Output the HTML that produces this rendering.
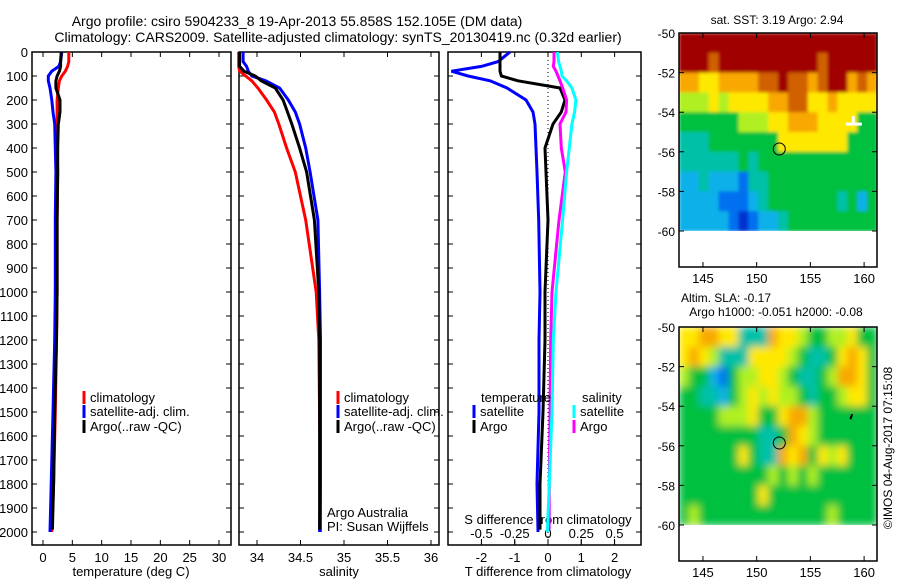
<!DOCTYPE html>
<html><head><meta charset="utf-8"><style>
html,body{margin:0;padding:0;background:#fff;}
svg{display:block;font-family:"Liberation Sans",sans-serif;}
</style></head><body>
<svg id="fig" width="900" height="580" viewBox="0 0 900 580" xmlns="http://www.w3.org/2000/svg">
<text x="297" y="26" font-size="14" text-anchor="middle">Argo profile: csiro 5904233_8 19-Apr-2013 55.858S 152.105E (DM data)</text>
<text x="338" y="42" font-size="14" text-anchor="middle">Climatology: CARS2009. Satellite-adjusted climatology: synTS_20130419.nc (0.32d earlier)</text>
<text x="777" y="24" font-size="12" text-anchor="middle">sat. SST: 3.19 Argo: 2.94</text>
<text x="726" y="302" font-size="12" text-anchor="middle">Altim. SLA: -0.17</text>
<text x="776" y="316" font-size="12" text-anchor="middle">Argo h1000: -0.051 h2000: -0.08</text>
<text transform="translate(892,448) rotate(-90)" font-size="12" text-anchor="middle">©IMOS 04-Aug-2017 07:15:08</text>
</svg>
<script>
// ---- profile data ----
const depths = [0,40,60,80,100,120,150,200,250,300,400,500,700,1000,1200,1500,1800,2000];
const tempClim = [4.4,4.4,4.2,3.8,3.2,2.8,2.6,2.4,2.4,2.4,2.4,2.5,2.4,2.4,2.3,2.1,1.8,1.5];
const tempSat  = [3.2,3.0,2.7,1.5,0.9,0.9,1.2,1.5,1.7,2.0,2.1,2.2,2.1,2.1,2.0,1.7,1.4,1.2];
const tempArgo = [3.1,3.0,3.0,2.8,2.4,2.2,2.2,2.9,2.9,2.6,2.5,2.5,2.4,2.4,2.3,2.0,1.8,1.6];
const salClim = [33.79,33.79,33.79,33.80,33.87,33.94,34.01,34.11,34.20,34.25,34.34,34.44,34.56,34.68,34.71,34.72,34.73,34.73];
const salSat  = [33.84,33.84,33.88,33.90,33.94,34.10,34.26,34.36,34.44,34.49,34.56,34.61,34.70,34.72,34.73,34.73,34.73,34.72];
const salArgo = [33.80,33.80,33.80,33.85,33.98,34.05,34.21,34.30,34.35,34.40,34.49,34.57,34.66,34.71,34.72,34.72,34.72,34.72];
const dTSat  = [-1.14,-1.5,-2.0,-2.9,-2.4,-1.74,-1.23,-0.66,-0.45,-0.39,-0.36,-0.33,-0.28,-0.24,-0.27,-0.27,-0.33,-0.30];
const dTArgo = [-1.44,-1.44,-1.44,-1.44,-1.4,-0.9,0.36,0.51,0.4,0.15,-0.09,-0.06,0,-0.09,-0.09,-0.15,-0.24,-0.24];
const dSArgo = [0.045,0.045,0.04,0.06,0.075,0.09,0.11,0.14,0.135,0.09,0.10,0.13,0.083,0.03,0.02,0.015,0.01,0.008];
const dSSat  = [0.07,0.08,0.09,0.10,0.105,0.14,0.18,0.21,0.20,0.18,0.16,0.14,0.11,0.06,0.04,0.03,0.01,-0.005];
const depthTicks = [0,100,200,300,400,500,600,700,800,900,1000,1100,1200,1300,1400,1500,1600,1700,1800,1900,2000];
const tempTicks = [0,5,10,15,20,25,30];
const salTicks = [34,34.5,35,35.5,36];
const dTTicks = [-2,-1,0,1,2];
const dSTicks = [-0.5,-0.25,0,0.25,0.5];
// ---- map data (rows lat -50..-60, cols lon 142.8..161.2), levels 0-9 ----
const sstGrid = [
"99999999999999999999",
"99989999999999899999",
"77667777889887899787",
"55565666677886676666",
"44444455566777666644",
"33344444446666666444",
"33333343444444444444",
"22322213344444444444",
"22221112344444443424",
"22222101223444444444"];
const slaGrid = [
"66776633376654455644",
"67653336666543346764",
"54421455665433457764",
"44332456565543445664",
"44445556446775444444",
"44444444334765444444",
"44444464337674656444",
"44444444454545444444",
"44444444644444444444",
"45444444444444454444"];
const palette = ["#0030d0","#0070f0","#10b0e8","#00c0a8","#00c040","#b0f020","#ffe800","#f8a800","#d06000","#a00000"];

const svg = document.getElementById('fig');
const NS = 'http://www.w3.org/2000/svg';
function mk(tag, attrs, parent){const e=document.createElementNS(NS,tag);for(const k in attrs)e.setAttribute(k,attrs[k]);(parent||svg).appendChild(e);return e;}
function txt(x,y,s,size,anchor){const e=mk('text',{x:x,y:y,'font-size':size,'text-anchor':anchor||'middle'});e.textContent=s;return e;}

const y0=52, yPer=0.24;
const yD = d => y0 + d*yPer;
const panels = [
 {x0:32,x1:231,f:v=>43+(v-0)*5.867,ticks:tempTicks,name:'temperature'},
 {x0:239,x1:439,f:v=>257+(v-34)*87,ticks:salTicks,name:'salinity'},
 {x0:448,x1:641,f:v=>548+v*33.3,ticks:dTTicks,name:'difference'}];
const fS = v => 548 + v*133;

panels.forEach((p,i)=>{
  const fr=mk('rect',{x:p.x0,y:52,width:p.x1-p.x0,height:493,fill:'none',stroke:'#000','stroke-width':1.5});
  
  
  depthTicks.forEach(d=>{
    const t=mk('path',{d:`M${p.x0} ${yD(d)}h5M${p.x1} ${yD(d)}h-5`,stroke:'#000','stroke-width':1});
    
    
    if(i===0){
      const l=txt(28,yD(d)+5,String(d),13,'end');
      
      
    }
  });
  p.ticks.forEach(v=>{
    const x=p.f(v);
    const t=mk('path',{d:`M${x} 52v5M${x} 545v-5`,stroke:'#000','stroke-width':1});
    
    
    const l=txt(x,562,String(v),13);
    
    
  });
});
dSTicks.forEach(v=>{
  const x=fS(v);
  const t=mk('path',{d:`M${x} 545v-6`,stroke:'#000','stroke-width':1});
  
  
  const l=txt(x,538,String(v),13);
  
  
});
[['temperature (deg C)',131,'temperature-axis-title'],['salinity',339,'salinity-axis-title'],['T difference from climatology',548,'t-diff-axis-title']].forEach(a=>{
  const l=txt(a[1],576,a[0],13);
  
  
});
const st=txt(548,524,'S difference from climatology',13);


const dot=mk('line',{x1:548,y1:52,x2:548,y2:545,stroke:'#000','stroke-width':1,'stroke-dasharray':'1,3'});



function series(vals,f,color,name,maxDepth){
  const pts=[];
  const md = maxDepth || 99999;
  vals.forEach((v,k)=>{
    if(depths[k] <= md) pts.push(f(v).toFixed(1)+','+yD(depths[k]).toFixed(1));
    else if(k>0 && depths[k-1] < md) pts.push(f(v).toFixed(1)+','+yD(md).toFixed(1));
  });
  const e=mk('polyline',{points:pts.join(' '),fill:'none',stroke:color,'stroke-width':3});
  
  
}
series(tempClim,panels[0].f,'#f00','temp-climatology-line');
series(tempSat,panels[0].f,'#00f','temp-satellite-line');
series(tempArgo,panels[0].f,'#000','temp-argo-line',1990);
series(salClim,panels[1].f,'#f00','sal-climatology-line');
series(salSat,panels[1].f,'#00f','sal-satellite-line');
series(salArgo,panels[1].f,'#000','sal-argo-line',1990);
series(dTSat,panels[2].f,'#00f','tdiff-satellite-line');
series(dTArgo,panels[2].f,'#000','tdiff-argo-line',1990);
series(dSArgo,fS,'#f0f','sdiff-argo-line',1990);
series(dSSat,fS,'#0ff','sdiff-satellite-line');

function legend(x,y,color,label,name){
  const b=mk('rect',{x:x-1.5,y:y-11,width:3,height:13,fill:color});
  
  
  const t=txt(x+6,y,label,13,'start');
  
  
}
[[84,'temp'],[338,'sal']].forEach(a=>{
  legend(a[0],402,'#f00','climatology',a[1]+'-legend-climatology');
  legend(a[0],416,'#00f','satellite-adj. clim.',a[1]+'-legend-satellite');
  legend(a[0],431,'#000','Argo(..raw -QC)',a[1]+'-legend-argo');
});
const lt=txt(481,402,'temperature',13,'start');


const ls=txt(582,402,'salinity',13,'start');


legend(474,416,'#00f','satellite','diff-legend-temp-satellite');
legend(474,431,'#000','Argo','diff-legend-temp-argo');
legend(574,416,'#0ff','satellite','diff-legend-sal-satellite');
legend(574,431,'#f0f','Argo','diff-legend-sal-argo');
const aa=txt(327,517,'Argo Australia',13,'start');


const pi=txt(327,531,'PI: Susan Wijffels',13,'start');



// ---- maps ----
const lonL=142.77, lonR=161.2, mx0=679, mx1=877;
const fLon = v => mx0 + (v-lonL)*(mx1-mx0)/(lonR-lonL);
const lonTicks=[145,150,155,160];
const latTicks=[-50,-52,-54,-56,-58,-60];
const defs=mk('defs',{});
const fl=mk('filter',{id:'blr',x:'-10%',y:'-10%',width:'120%',height:'120%'},defs);
mk('feGaussianBlur',{stdDeviation:4},fl);
const fl2=mk('filter',{id:'blr2',x:'-10%',y:'-10%',width:'120%',height:'120%'},defs);
mk('feGaussianBlur',{stdDeviation:1.5},fl2);
function drawMap(top,grid,name,filt){
  const fLat = v => top + (-50 - v)*19.8;
  const cpth=mk('clipPath',{id:'clip'+name},defs);
  mk('rect',{x:mx0,y:top,width:mx1-mx0,height:fLat(-60)-top},cpth);
  const outer=mk('g',{'clip-path':'url(#clip'+name+')'});
  const g=mk('g',{filter:'url(#'+filt+')'},outer);
  
  
  const cols=grid[0].length, rows=grid.length;
  const cw=(mx1-mx0)/cols, ch=(fLat(-60)-fLat(-50))/rows;
  grid.forEach((row,r)=>{ for(let c=0;c<cols;c++){
    const cell=mk('rect',{x:(mx0+c*cw).toFixed(2),y:(fLat(-50)+r*ch).toFixed(2),width:(cw+0.6).toFixed(2),height:(ch+0.6).toFixed(2),fill:palette[+row[c]]},g);
    
  }});
  const fr=mk('rect',{x:mx0,y:top,width:mx1-mx0,height:234,fill:'none',stroke:'#000','stroke-width':1.5});
  
  
  latTicks.forEach(v=>{
    const t=mk('path',{d:`M${mx0} ${fLat(v)}h5M${mx1} ${fLat(v)}h-5`,stroke:'#000'});
    
    
    const l=txt(675,fLat(v)+5,String(v),12,'end');
    
    
  });
  lonTicks.forEach(v=>{
    const t=mk('path',{d:`M${fLon(v)} ${top}v5M${fLon(v)} ${top+234}v-5`,stroke:'#000'});
    
    
    const l=txt(fLon(v),top+250,String(v),13);
    
    
  });
  const c=mk('circle',{cx:fLon(152.105),cy:fLat(-55.858),r:6,fill:'none',stroke:'#000','stroke-width':1});
  
  
  return fLat;
}
const fLatA=drawMap(33,sstGrid,'sst','blr2');
const fLatB=drawMap(327,slaGrid,'sla','blr');
const wc=mk('path',{d:`M${fLon(158.3)} ${fLatA(-54.6)}h16M${fLon(159)} ${fLatA(-54.2)}v9`,stroke:'#fff','stroke-width':3});


const bm=mk('path',{d:`M${fLon(158.9)} ${fLatB(-54.4)}l-2 5`,stroke:'#000','stroke-width':2});


</script>
</body></html>
